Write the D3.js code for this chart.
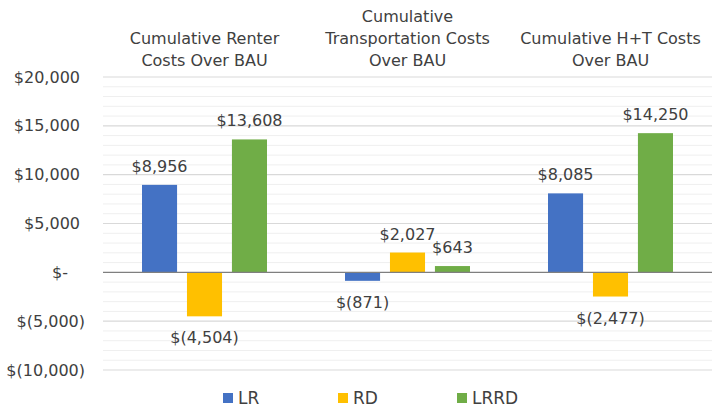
<!DOCTYPE html>
<html><head><meta charset="utf-8">
<script src="https://cdn.jsdelivr.net/npm/d3@7"></script>
<style>body{margin:0;background:#fff}svg{display:block}text{font-family:"DejaVu Sans",Verdana,sans-serif;fill:#404040}</style>
</head><body>
<svg id="c" width="721" height="413"></svg>
<script>
const categories = ["Cumulative Renter Costs Over BAU", "Cumulative Transportation Costs Over BAU", "Cumulative H+T Costs Over BAU"];
const categoryLines = [["Cumulative Renter", "Costs Over BAU"], ["Cumulative", "Transportation Costs", "Over BAU"], ["Cumulative H+T Costs", "Over BAU"]];
const series = ["LR", "RD", "LRRD"];
const LR = [8956, -871, 8085];
const RD = [-4504, 2027, -2477];
const LRRD = [13608, 643, 14250];
const colors = ["#4472C4", "#FFC000", "#70AD47"];
const yTicks = [20000, 15000, 10000, 5000, 0, -5000, -10000];

(function () {
const values = [LR, RD, LRRD];
const svg = d3.select("#c");
const pLeft = 103, pRight = 712, pTop = 77, pBottom = 370;
const y = d3.scaleLinear().domain([-10000, 20000]).range([pBottom, pTop]);
const x0 = d3.scaleBand().domain(categories).range([pLeft, pRight]).padding(0);
const x1 = d3.scaleBand().domain(series).range([39, 164]).paddingInner(0.22).paddingOuter(0);

const fmt = v => {
  if (v === 0) return "$-";
  const s = d3.format(",")(Math.abs(v));
  return v < 0 ? "$(" + s + ")" : "$" + s;
};

const minor = d3.range(-10000, 20001, 1000).filter(v => v % 5000 !== 0);
svg.append("g").selectAll("line").data(minor).join("line")
  .attr("x1", pLeft).attr("x2", pRight).attr("y1", d => y(d)).attr("y2", d => y(d))
  .attr("stroke", "#efefef").attr("stroke-width", 1);
svg.append("g").selectAll("line").data(yTicks.filter(v => v !== 0)).join("line")
  .attr("x1", pLeft).attr("x2", pRight).attr("y1", d => y(d)).attr("y2", d => y(d))
  .attr("stroke", "#d9d9d9").attr("stroke-width", 1.2);

const yAxis = d3.axisLeft(y).tickValues(yTicks).tickFormat(fmt).tickSize(0).tickPadding(0);
const ya = svg.append("g").attr("transform", `translate(80,0)`).call(yAxis);
ya.select(".domain").remove();
ya.selectAll("text").style("font-size", "16px").attr("fill", "#404040")
  .attr("font-family", "DejaVu Sans, Verdana, sans-serif")
  .attr("x", d => d < 0 ? 5 : (d === 0 ? -12 : 0));

const g = svg.append("g");
categories.forEach((c, ci) => {
  series.forEach((s, si) => {
    const v = values[si][ci];
    const bx = x0(c) + x1(s);
    g.append("rect").attr("x", bx).attr("width", x1.bandwidth())
      .attr("y", y(Math.max(0, v))).attr("height", Math.abs(y(v) - y(0)))
      .attr("fill", colors[si]);
    g.append("text").attr("x", bx + x1.bandwidth() / 2)
      .attr("y", v >= 0 ? y(v) - 13 : y(v) + 27)
      .attr("text-anchor", "middle").style("font-size", "16px").text(fmt(v));
  });
  const lines = categoryLines[ci];
  lines.forEach((ln, li) => {
    svg.append("text").attr("x", x0(c) + x0.bandwidth() / 2)
      .attr("y", 66 - (lines.length - 1 - li) * 22)
      .attr("text-anchor", "middle").style("font-size", "16px").text(ln);
  });
});

svg.append("line").attr("x1", pLeft).attr("x2", pRight).attr("y1", y(0)).attr("y2", y(0))
  .attr("stroke", "#7f7f7f").attr("stroke-width", 1.3);

const legX = [223, 338, 457];
series.forEach((s, i) => {
  svg.append("rect").attr("x", legX[i]).attr("y", 393).attr("width", 10).attr("height", 10).attr("fill", colors[i]);
  svg.append("text").attr("x", legX[i] + 15).attr("y", 404).style("font-size", "17px").text(s);
});
})();
</script>
</body></html>
